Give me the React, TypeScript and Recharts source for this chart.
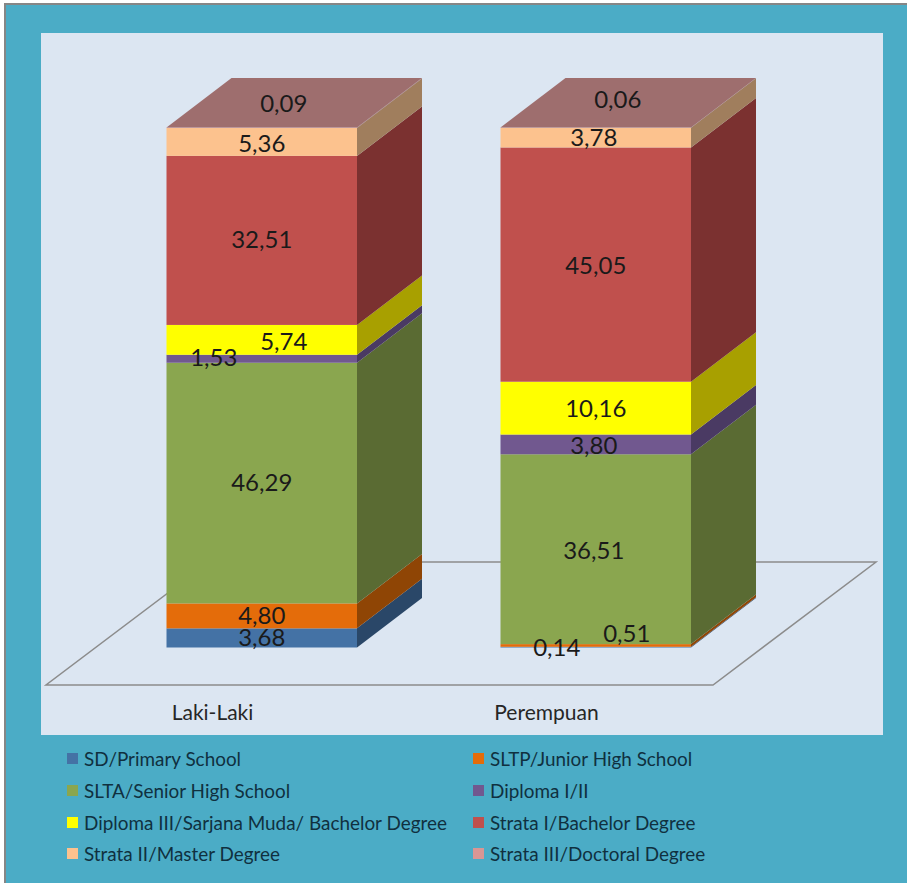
import { Bar, BarChart, Customized, LabelList, Legend, XAxis, YAxis } from "recharts";

const categories = ["Laki-Laki", "Perempuan"];
const sd = [3.68, 0.14];
const sltp = [4.8, 0.51];
const slta = [46.29, 36.51];
const diploma12 = [1.53, 3.8];
const diploma3 = [5.74, 10.16];
const strata1 = [32.51, 45.05];
const strata2 = [5.36, 3.78];
const strata3 = [0.09, 0.06];

const seriesNames = [
  "SD/Primary School",
  "SLTP/Junior High School",
  "SLTA/Senior High School",
  "Diploma I/II",
  "Diploma III/Sarjana Muda/ Bachelor Degree",
  "Strata I/Bachelor Degree",
  "Strata II/Master Degree",
  "Strata III/Doctoral Degree",
];
const seriesValues = [sd, sltp, slta, diploma12, diploma3, strata1, strata2, strata3];
const keys = ["sd", "sltp", "slta", "diploma12", "diploma3", "strata1", "strata2", "strata3"];
const frontColors = ["#4472A5", "#E46C0A", "#8AA64F", "#71588F", "#FFFF00", "#C0504D", "#FCC28E", "#D99694"];
const sideColors = ["#2A4768", "#8F4505", "#5A6B33", "#4A3A63", "#A8A000", "#7B3130", "#A07E5D", "#9E6E6E"];

const data = categories.map((name, i) => {
  const row: Record<string, string | number> = { name };
  keys.forEach((k, s) => {
    row[k] = seriesValues[s][i];
  });
  return row;
});

const DX = 65;
const DY = 49.5;
const FONT = "Lato, 'Open Sans', sans-serif";

// hand nudges for labels that sit off-centre in the original, [series][category]
const labelNudge: Record<string, [number, number][]> = {
  sd: [[0, 0], [-39, 0.5]],
  sltp: [[0, 0], [31, -11.5]],
  slta: [[0, 0], [-2, 2]],
  diploma12: [[-48, -0.5], [-2, 2]],
  diploma3: [[22, 2.5], [0, 1]],
  strata1: [[0, 0], [0, 1]],
  strata2: [[0, 2.5], [-2, 0.5]],
  strata3: [[22, -23.5], [22, -27.5]],
};

const Box = (props: any) => {
  const { x, y, width, height, seriesIndex } = props;
  const right = x + width;
  const last = seriesIndex === keys.length - 1;
  return (
    <g>
      <rect x={x} y={y} width={width} height={height} fill={frontColors[seriesIndex]} />
      <polygon
        points={`${right},${y} ${right + DX},${y - DY} ${right + DX},${y + height - DY} ${right},${y + height}`}
        fill={sideColors[seriesIndex]}
      />
      {last && (
        <polygon
          points={`${x},${y} ${right},${y} ${right + DX},${y - DY} ${x + DX},${y - DY}`}
          fill={sideColors[seriesIndex]}
        />
      )}
    </g>
  );
};

const Floor = () => (
  <polygon points="46,685 713,685 876,562 209,562" fill="none" stroke="#8C8C8C" strokeWidth={1.5} />
);

const CategoryTick = ({ x, y, payload }: any) => (
  <text x={x - 49} y={y + 64} textAnchor="middle" fontFamily={FONT} fontSize={21} fill="#262626">
    {payload.value}
  </text>
);

const legendContent = ({ payload }: any) => (
  <div style={{ display: "grid", gridTemplateColumns: "406px 400px", paddingLeft: 67, fontFamily: FONT }}>
    {(payload || []).map((item: any) => (
      <div key={item.value} style={{ display: "flex", alignItems: "center", height: 31.7, color: "#10303F", fontSize: 18.9 }}>
        <span style={{ width: 11, height: 11, background: item.color, marginRight: 6, flex: "none" }} />
        {item.value}
      </div>
    ))}
  </div>
);

export default function App() {
  return (
    <div style={{ position: "absolute", left: 0, top: 0, width: 907, height: 883, background: "#fff", overflow: "hidden" }}>
      <div
        style={{
          position: "absolute",
          left: 4,
          top: 3,
          width: 903,
          height: 880,
          boxSizing: "border-box",
          background: "#4BACC6",
          border: "2.5px solid #868686",
          borderRight: "none",
          borderBottom: "none",
        }}
      />
      <div style={{ position: "absolute", left: 41, top: 33, width: 842, height: 702, background: "#DCE6F2" }} />
      <div style={{ position: "absolute", left: 0, top: 0 }}>
        <BarChart
          width={907}
          height={883}
          data={data}
          barSize={190.5}
          margin={{ left: 94.5, right: 144.5, top: 127.5, bottom: 165.5 }}
        >
          <Customized component={Floor} />
          <XAxis dataKey="name" height={70} axisLine={false} tickLine={false} tick={<CategoryTick />} interval={0} />
          <YAxis hide domain={[0, 100]} />
          <Legend
            layout="horizontal"
            verticalAlign="middle"
            itemSorter={null}
            content={legendContent}
            wrapperStyle={{ position: "absolute", left: 0, top: 743, width: 907 }}
          />
          {keys.map((k, s) => (
            <Bar
              key={k}
              dataKey={k}
              name={seriesNames[s]}
              stackId="a"
              fill={frontColors[s]}
              isAnimationActive={false}
              shape={(p: any) => <Box {...p} seriesIndex={s} />}
            >
              <LabelList
                dataKey={k}
                content={(p: any) => {
                  const [nx, ny] = labelNudge[k][p.index];
                  return (
                    <text
                      x={p.x + p.width / 2 + nx}
                      y={p.y + p.height / 2 + ny - 1.5}
                      textAnchor="middle"
                      dominantBaseline="central"
                      fontFamily={FONT}
                      fontSize={24}
                      fill="#1a1a1a"
                    >
                      {Number(p.value).toFixed(2).replace(".", ",")}
                    </text>
                  );
                }}
              />
            </Bar>
          ))}
        </BarChart>
      </div>
    </div>
  );
}
